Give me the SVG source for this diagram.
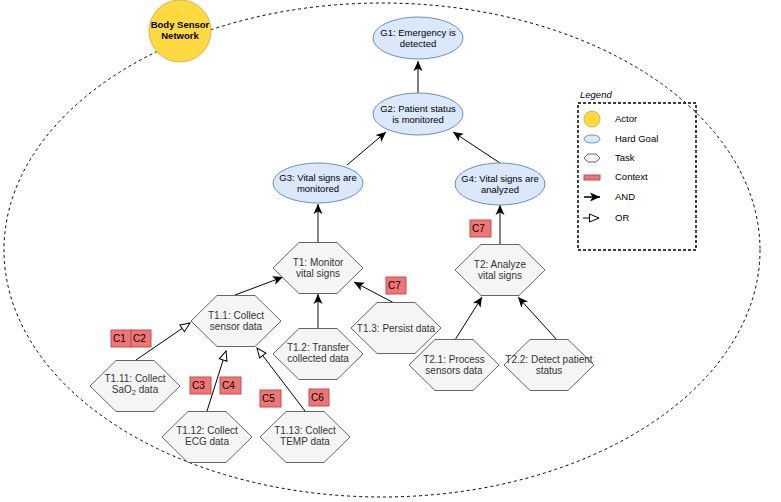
<svg xmlns="http://www.w3.org/2000/svg" width="781" height="502" viewBox="0 0 781 502">
<style>
text{font-family:"Liberation Sans",Arial,sans-serif;font-size:10px;text-anchor:middle;fill:#000}
.g{font-size:9.5px}
.goal{fill:#dae8fc;stroke:#6c8ebf;stroke-width:1}
.task{fill:#f5f5f5;stroke:#666;stroke-width:1}
.ttxt{fill:#333}
.ctx{fill:#f07575;stroke:#b85450;stroke-width:1}
.ctxt{font-size:10px;text-anchor:start;fill:#000}
.actor{fill:#ffd940;stroke:#d6b656;stroke-width:1}
.and{stroke:#000;stroke-width:1;fill:none;marker-end:url(#fa)}
.andg{stroke:#666;stroke-width:1.6;fill:none;marker-end:url(#fa)}
.or{stroke:#000;stroke-width:1;fill:none;marker-end:url(#oa)}
.leg{text-anchor:start;font-size:9.5px}
</style>
<defs>
<marker id="fa" markerUnits="userSpaceOnUse" markerWidth="12" markerHeight="12" viewBox="0 0 12 12" refX="11" refY="6" orient="auto">
<path d="M1,1.5 L11,6 L1,10.5 L3.5,6 Z" fill="#000"/>
</marker>
<marker id="oa" markerUnits="userSpaceOnUse" markerWidth="12" markerHeight="12" viewBox="0 0 12 12" refX="11" refY="6" orient="auto">
<path d="M1.5,2 L11,6 L1.5,10 Z" fill="#fff" stroke="#000" stroke-width="1"/>
</marker>
<polygon id="hex" points="-45,0 -19,-25.5 19,-25.5 45,0 19,25.5 -19,25.5"/>
</defs>
<rect width="781" height="502" fill="#fff"/>
<ellipse id="boundary" cx="382" cy="250" rx="378" ry="247" fill="none" stroke="#000" stroke-width="1" stroke-dasharray="3 3"/>
<g id="connectors">
<path class="and" d="M418,93 L418,61"/>
<path class="and" d="M347,165 L386,132"/>
<path class="and" d="M500,163 L453,132"/>
<path class="andg" d="M318,242 L318,204"/>
<path class="andg" d="M500,245 L500,205"/>
<path class="and" d="M235,295 L283,277"/>
<path class="andg" d="M318,328 L318,294"/>
<path class="and" d="M396,304 L354,282"/>
<path class="or" d="M136,360 L190,323"/>
<path class="or" d="M207,411 L226,351"/>
<path class="or" d="M305,411 L257,348"/>
<path class="and" d="M455,340 L482,297"/>
<path class="and" d="M557,340 L518,297"/>
</g>
<g id="bsn"><circle class="actor" cx="180" cy="31" r="31"/><text class="g" x="180" y="28" font-weight="bold">Body Sensor</text><text class="g" x="180" y="39" font-weight="bold">Network</text></g>
<g id="G1"><ellipse class="goal" cx="418" cy="38" rx="45" ry="21"/><text class="g" x="418" y="36">G1: Emergency is</text><text class="g" x="418" y="47">detected</text></g>
<g id="G2"><ellipse class="goal" cx="418" cy="114" rx="45" ry="21"/><text class="g" x="418" y="112">G2: Patient status</text><text class="g" x="418" y="123">is monitored</text></g>
<g id="G3"><ellipse class="goal" cx="318" cy="183" rx="45" ry="20"/><text class="g" x="318" y="181">G3: Vital signs are</text><text class="g" x="318" y="192">monitored</text></g>
<g id="G4"><ellipse class="goal" cx="500" cy="184" rx="45" ry="21"/><text class="g" x="500" y="182">G4: Vital signs are</text><text class="g" x="500" y="193">analyzed</text></g>
<g id="T1"><use href="#hex" class="task" x="318" y="268"/><text class="ttxt" x="318" y="266">T1: Monitor</text><text class="ttxt" x="318" y="277">vital signs</text></g>
<g id="T1.1"><use href="#hex" class="task" x="236" y="321"/><text class="ttxt" x="236" y="319">T1.1: Collect</text><text class="ttxt" x="236" y="330">sensor data</text></g>
<g id="T1.2"><use href="#hex" class="task" x="318" y="354"/><text class="ttxt" x="318" y="351">T1.2: Transfer</text><text class="ttxt" x="318" y="362">collected data</text></g>
<g id="T1.3"><use href="#hex" class="task" x="396" y="328"/><text class="ttxt" x="396" y="332">T1.3: Persist data</text></g>
<g id="T1.11"><use href="#hex" class="task" x="135" y="386"/><text class="ttxt" x="135" y="382">T1.11: Collect</text><text class="ttxt" x="135" y="393">SaO<tspan font-size="7.5" dy="2">2</tspan><tspan dy="-2"> data</tspan></text></g>
<g id="T1.12"><use href="#hex" class="task" x="207" y="437"/><text class="ttxt" x="207" y="434">T1.12: Collect</text><text class="ttxt" x="207" y="445">ECG data</text></g>
<g id="T1.13"><use href="#hex" class="task" x="305" y="437"/><text class="ttxt" x="305" y="434">T1.13: Collect</text><text class="ttxt" x="305" y="445">TEMP data</text></g>
<g id="T2"><use href="#hex" class="task" x="500" y="270"/><text class="ttxt" x="500" y="268">T2: Analyze</text><text class="ttxt" x="500" y="279">vital signs</text></g>
<g id="T2.1"><use href="#hex" class="task" x="454" y="365"/><text class="ttxt" x="454" y="363">T2.1: Process</text><text class="ttxt" x="454" y="374">sensors data</text></g>
<g id="T2.2"><use href="#hex" class="task" x="549" y="365"/><text class="ttxt" x="549" y="363">T2.2: Detect patient</text><text class="ttxt" x="549" y="374">status</text></g>
<g id="C1"><rect class="ctx" x="111" y="330" width="20" height="17"/><text class="ctxt" x="113" y="342">C1</text></g>
<g id="C2"><rect class="ctx" x="131" y="330" width="20" height="17"/><text class="ctxt" x="133" y="342">C2</text></g>
<g id="C3"><rect class="ctx" x="190" y="377" width="21" height="17"/><text class="ctxt" x="192" y="389">C3</text></g>
<g id="C4"><rect class="ctx" x="220" y="377" width="21" height="17"/><text class="ctxt" x="222" y="389">C4</text></g>
<g id="C5"><rect class="ctx" x="260" y="390" width="21" height="17"/><text class="ctxt" x="262" y="402">C5</text></g>
<g id="C6"><rect class="ctx" x="309" y="389" width="20" height="17"/><text class="ctxt" x="311" y="401">C6</text></g>
<g id="C7a"><rect class="ctx" x="386" y="277" width="20" height="17"/><text class="ctxt" x="388" y="289">C7</text></g>
<g id="C7b"><rect class="ctx" x="470" y="220" width="21" height="17"/><text class="ctxt" x="472" y="232">C7</text></g>
<g id="legend">
<text x="580" y="98" class="leg" font-style="italic" font-size="8.5">Legend</text>
<rect x="578" y="103" width="118" height="147" fill="none" stroke="#000" stroke-width="1.5" stroke-dasharray="3 2"/>
<circle class="actor" cx="592" cy="119" r="8"/><text class="leg" x="615" y="122">Actor</text>
<ellipse class="goal" cx="592" cy="139" rx="8" ry="4"/><text class="leg" x="615" y="142">Hard Goal</text>
<polygon class="task" points="584,158 588,154 596,154 600,158 596,162 588,162"/><text class="leg" x="615" y="161">Task</text>
<rect class="ctx" x="584" y="175" width="16" height="5"/><text class="leg" x="615" y="180">Context</text>
<path d="M584,197 L600,197" stroke="#000" stroke-width="1.5" marker-end="url(#fa)"/><text class="leg" x="615" y="200">AND</text>
<path d="M583,218 L599,218" stroke="#000" stroke-width="1" marker-end="url(#oa)"/><text class="leg" x="615" y="221">OR</text>
</g>
</svg>
